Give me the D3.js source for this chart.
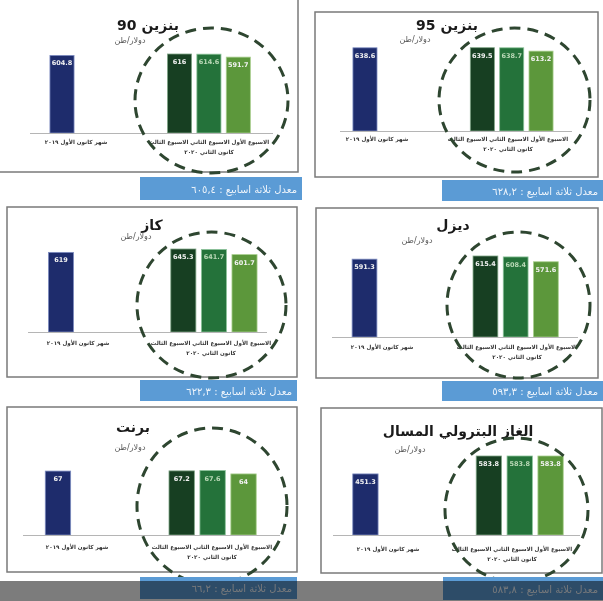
<!DOCTYPE html>
<html>
<head>
<meta charset="utf-8">
<script src="https://cdn.jsdelivr.net/npm/d3@7"></script>
<style>
  body { margin: 0; background: #fff; }
  svg { display: block; }
</style>
</head>
<body>
<script>
"use strict";

// chart values, one entry per panel
const titles = ["بنزين 90", "بنزين 95", "كاز", "ديزل", "برنت", "الغاز البترولي المسال"];
const decValues = [604.8, 638.6, 619, 591.3, 67, 451.3];
const week3Values = [616, 639.5, 645.3, 615.4, 67.2, 583.8];
const week2Values = [614.6, 638.7, 641.7, 608.4, 67.6, 583.8];
const week1Values = [591.7, 613.2, 601.7, 571.6, 64, 583.8];
const averages = ["٦٠٥,٤", "٦٢٨,٢", "٦٢٢,٣", "٥٩٣,٣", "٦٦,٢", "٥٨٣,٨"];

const categories = ["dec", "w3", "w2", "w1"];
const categorySlot = [0, 4, 5, 6];  // the december bar stands apart from the weeks
const unitLabel = "دولار/طن";
const monthLabel = "شهر كانون الأول ٢٠١٩";
const weekLabel = "الاسبوع الأول الاسبوع الثاني الاسبوع الثالث";
const monthLabel2 = "كانون الثاني ٢٠٢٠";
const averagePrefix = "معدل ثلاثة اسابيع : ";

const barColors = ["#1e2c6c", "#173f22", "#24723a", "#5c973b"];
const barEdges  = ["#7d8cc0", "#7fa585", "#8cc39a", "#a9cf8e"];

// where each panel sits in the picture
const layout = [
    { box: [-2, -20, 300, 192], title: [148, 30], unit: [130, 43], base: 133, top: 54,
      xr: [47.3, 253], axis: [30, 273], lab: [76, 209, 144], ell: [211.5, 100.5, 76.5, 72.5], tag: [140, 177, 162, 23] },
    { box: [315, 12, 283, 165], title: [447, 30], unit: [415, 42], base: 131, top: 47.7,
      xr: [350.3, 555.7], axis: [340, 572], lab: [377, 508, 141], ell: [514.5, 100, 75.5, 72], tag: [442, 180, 161, 21] },
    { box: [7, 207, 290, 170], title: [152, 230], unit: [136, 239], base: 332, top: 249,
      xr: [45.7, 259.8], axis: [28, 267], lab: [78, 211, 345], ell: [211.5, 305, 74.5, 73], tag: [140, 380, 157, 21] },
    { box: [316, 208, 282, 170], title: [453, 230], unit: [417, 243], base: 337, top: 256,
      xr: [349.4, 561], axis: [332, 578], lab: [382, 517, 349], ell: [518.5, 305, 71.5, 73], tag: [442, 381, 161, 20] },
    { box: [7, 407, 290, 165], title: [133, 432], unit: [130, 450], base: 535, top: 470.5,
      xr: [42.5, 259], axis: [23, 280], lab: [77, 212, 549], ell: [212, 506, 75, 78], tag: [140, 577, 157, 22] },
    { box: [321, 408, 281, 165], title: [458, 436], unit: [410, 452], base: 535, top: 456,
      xr: [350, 566], axis: [333, 580], lab: [388, 512, 551], ell: [516.5, 510, 71.5, 72], tag: [443, 577, 160, 23] }
];

const width = 603, height = 601;
const FONT = "'DejaVu Sans', sans-serif";

const svg = d3.select("body").append("svg")
    .attr("width", width)
    .attr("height", height);

svg.append("rect")
   .attr("width", width).attr("height", height)
   .attr("fill", "#ffffff");

titles.forEach((title, i) => {
    const L = layout[i];
    const values = [decValues[i], week3Values[i], week2Values[i], week1Values[i]];
    const g = svg.append("g");

    // panel frame
    g.append("rect")
     .attr("x", L.box[0]).attr("y", L.box[1])
     .attr("width", L.box[2]).attr("height", L.box[3])
     .attr("fill", "#fff")
     .attr("stroke", "#7a7a7a")
     .attr("stroke-width", 1.5);

    const x = d3.scaleBand()
                .domain(d3.range(7))
                .range(L.xr)
                .paddingInner(0.18)
                .paddingOuter(0.09);

    const y = d3.scaleLinear()
                .domain([0, d3.max(values)])
                .range([L.base, L.top]);

    const bars = categories.map((c, k) => ({ key: c, slot: categorySlot[k], value: values[k], k }));

    g.selectAll(".bar").data(bars).enter().append("rect")
     .attr("class", "bar")
     .attr("x", d => x(d.slot))
     .attr("y", d => y(d.value))
     .attr("width", x.bandwidth())
     .attr("height", d => y(0) - y(d.value))
     .attr("fill", d => barColors[d.k])
     .attr("stroke", d => barEdges[d.k])
     .attr("stroke-width", 0.8);

    g.selectAll(".val").data(bars).enter().append("text")
     .attr("class", "val")
     .attr("x", d => x(d.slot) + x.bandwidth() / 2)
     .attr("y", d => y(d.value) + 10)
     .attr("text-anchor", "middle")
     .attr("font-family", FONT)
     .attr("font-size", 6.5)
     .attr("font-weight", "bold")
     .attr("fill", (d, k) => k === 2 ? "#b9d8b6" : "#f2f2f2")
     .text(d => String(d.value));

    // base line
    g.append("line")
     .attr("x1", L.axis[0]).attr("x2", L.axis[1])
     .attr("y1", y(0) + 0.5).attr("y2", y(0) + 0.5)
     .attr("stroke", "#b5b5b5")
     .attr("stroke-width", 1);

    // titles
    g.append("text")
     .attr("x", L.title[0]).attr("y", L.title[1])
     .attr("text-anchor", "middle")
     .attr("direction", "rtl")
     .attr("font-family", FONT)
     .attr("font-size", 14)
     .attr("font-weight", "bold")
     .attr("fill", "#1a1a1a")
     .text(title);

    g.append("text")
     .attr("x", L.unit[0]).attr("y", L.unit[1])
     .attr("text-anchor", "middle")
     .attr("direction", "rtl")
     .attr("font-family", FONT)
     .attr("font-size", 8)
     .attr("fill", "#555")
     .text(unitLabel);

    // category labels
    const labs = [
        { t: monthLabel, x: L.lab[0], y: L.lab[2] },
        { t: weekLabel, x: L.lab[1], y: L.lab[2] },
        { t: monthLabel2, x: L.lab[1], y: L.lab[2] + 10 }
    ];
    g.selectAll(".cat").data(labs).enter().append("text")
     .attr("class", "cat")
     .attr("x", d => d.x).attr("y", d => d.y)
     .attr("text-anchor", "middle")
     .attr("direction", "rtl")
     .attr("font-family", FONT)
     .attr("font-size", 5.6)
     .attr("font-weight", "bold")
     .attr("fill", "#333")
     .text(d => d.t);

    // dashed ring round the weeks of January
    g.append("ellipse")
     .attr("cx", L.ell[0]).attr("cy", L.ell[1])
     .attr("rx", L.ell[2]).attr("ry", L.ell[3])
     .attr("fill", "none")
     .attr("stroke", "#2e4630")
     .attr("stroke-width", 3)
     .attr("stroke-dasharray", "11,7");

    // average tag
    g.append("rect")
     .attr("x", L.tag[0]).attr("y", L.tag[1])
     .attr("width", L.tag[2]).attr("height", L.tag[3])
     .attr("fill", "#5b9bd5");

    g.append("text")
     .attr("x", L.tag[0] + L.tag[2] - 5)
     .attr("y", L.tag[1] + L.tag[3] / 2 + 4)
     .attr("direction", "rtl")
     .attr("text-anchor", "start")
     .attr("font-family", FONT)
     .attr("font-size", 10)
     .attr("fill", "#eef4fb")
     .text(averagePrefix + averages[i]);
});

// grey strip along the bottom of the picture
svg.append("rect")
   .attr("x", 0).attr("y", 581)
   .attr("width", width).attr("height", height - 581)
   .attr("fill", "#7c7c7c")
   .style("mix-blend-mode", "multiply");
</script>
</body>
</html>
